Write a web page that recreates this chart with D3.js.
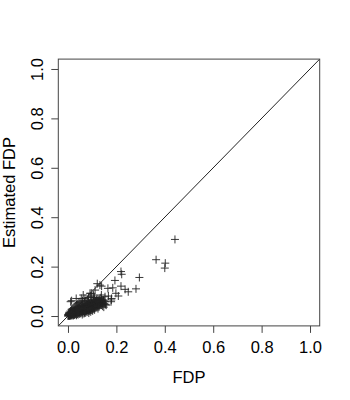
<!DOCTYPE html>
<html>
<head>
<meta charset="utf-8">
<script src="https://cdn.jsdelivr.net/npm/d3@7"></script>
<style>
  body { margin: 0; background: #fff; }
  svg text { font-family: "Liberation Sans", Arial, Helvetica, sans-serif; fill: #000; }
</style>
</head>
<body>
<div id="chart"></div>
<script>
const fdp = [
  0.000, 0.001, 0.002, 0.003, 0.004, 0.005, 0.006, 0.007, 0.008, 0.009,
  0.010, 0.011, 0.012, 0.013, 0.014, 0.015, 0.016, 0.017, 0.018, 0.019,
  0.020, 0.021, 0.022, 0.023, 0.024, 0.025, 0.026, 0.027, 0.028, 0.029,
  0.030, 0.031, 0.032, 0.033, 0.034, 0.035, 0.036, 0.037, 0.038, 0.039,
  0.040, 0.041, 0.042, 0.043, 0.044, 0.045, 0.046, 0.047, 0.048, 0.049,
  0.050, 0.051, 0.052, 0.053, 0.054, 0.055, 0.056, 0.057, 0.058, 0.059,
  0.060, 0.061, 0.062, 0.063, 0.064, 0.065, 0.066, 0.067, 0.068, 0.069,
  0.070, 0.071, 0.072, 0.073, 0.074, 0.075, 0.076, 0.077, 0.078, 0.079,
  0.080, 0.081, 0.082, 0.083, 0.084, 0.085, 0.086, 0.087, 0.088, 0.089,
  0.090, 0.091, 0.092, 0.093, 0.094, 0.095, 0.096, 0.097, 0.098, 0.099,
  0.100, 0.101, 0.102, 0.103, 0.104, 0.105, 0.106, 0.107, 0.108, 0.109,
  0.110, 0.111, 0.112, 0.114, 0.116, 0.118, 0.120, 0.122, 0.124, 0.126,
  0.128, 0.130, 0.133, 0.136, 0.140, 0.143, 0.147, 0.150,
  0.005, 0.010, 0.015, 0.020, 0.025, 0.030, 0.035, 0.040, 0.045, 0.050,
  0.060, 0.070, 0.080, 0.085, 0.095, 0.105, 0.110,
  0.002, 0.004, 0.006, 0.008, 0.009, 0.011, 0.013, 0.014, 0.016, 0.018,
  0.019, 0.021, 0.022, 0.024, 0.026, 0.027, 0.029, 0.031, 0.033, 0.034,
  0.036, 0.038, 0.039, 0.041, 0.043, 0.044, 0.046, 0.048, 0.049, 0.051,
  0.053, 0.055, 0.056, 0.058, 0.060, 0.061, 0.063, 0.065, 0.066, 0.068,
  0.070, 0.071, 0.073, 0.075, 0.077, 0.078, 0.080, 0.082, 0.083, 0.085,
  0.087, 0.089, 0.091, 0.093, 0.095, 0.097, 0.099, 0.101, 0.103, 0.105,
  0.107, 0.109, 0.112, 0.115, 0.117, 0.119, 0.122, 0.125, 0.127, 0.129,
  0.132, 0.135, 0.138, 0.141, 0.145, 0.148, 0.152, 0.155,
  0.442, 0.364, 0.402, 0.400, 0.295, 0.219, 0.222, 0.194, 0.219, 0.281,
  0.249, 0.236, 0.185, 0.208, 0.198, 0.139, 0.167, 0.178, 0.153, 0.121,
  0.165, 0.138, 0.179, 0.158, 0.132, 0.146, 0.132, 0.180, 0.117, 0.124,
  0.096, 0.091, 0.063, 0.055, 0.070, 0.015, 0.011, 0.034, 0.112
];
const estimatedFdp = [
  0.000, 0.004, 0.001, 0.007, 0.002, 0.010, 0.004, 0.001, 0.008, 0.013,
  0.003, 0.006, 0.011, 0.016, 0.002, 0.008, 0.012, 0.019, 0.005, 0.010,
  0.015, 0.001, 0.022, 0.007, 0.013, 0.018, 0.004, 0.010, 0.025, 0.015,
  0.020, 0.007, 0.012, 0.028, 0.017, 0.003, 0.022, 0.009, 0.014, 0.031,
  0.019, 0.025, 0.006, 0.012, 0.034, 0.017, 0.022, 0.028, 0.009, 0.015,
  0.037, 0.020, 0.026, 0.031, 0.012, 0.017, 0.040, 0.024, 0.029, 0.006,
  0.034, 0.014, 0.020, 0.043, 0.027, 0.032, 0.010, 0.037, 0.017, 0.023,
  0.047, 0.029, 0.035, 0.013, 0.040, 0.020, 0.026, 0.050, 0.032, 0.016,
  0.038, 0.044, 0.023, 0.029, 0.054, 0.035, 0.012, 0.041, 0.020, 0.047,
  0.027, 0.033, 0.058, 0.039, 0.017, 0.045, 0.024, 0.051, 0.031, 0.037,
  0.062, 0.043, 0.021, 0.049, 0.028, 0.055, 0.035, 0.041, 0.066, 0.047,
  0.025, 0.053, 0.032, 0.059, 0.039, 0.046, 0.070, 0.052, 0.030, 0.058,
  0.043, 0.064, 0.050, 0.074, 0.056, 0.040, 0.062, 0.050,
  0.015, 0.020, 0.027, 0.030, 0.035, 0.040, 0.045, 0.050, 0.055, 0.058,
  0.062, 0.060, 0.065, 0.075, 0.080, 0.085, 0.075,
  0.006, 0.009, 0.002, 0.005, 0.001, 0.014, 0.009, 0.005, 0.017, 0.008,
  0.014, 0.011, 0.004, 0.020, 0.012, 0.006, 0.018, 0.024, 0.010, 0.020,
  0.015, 0.027, 0.008, 0.021, 0.030, 0.014, 0.018, 0.033, 0.024, 0.011,
  0.021, 0.036, 0.026, 0.016, 0.039, 0.028, 0.022, 0.041, 0.030, 0.013,
  0.035, 0.044, 0.025, 0.031, 0.046, 0.019, 0.028, 0.049, 0.036, 0.022,
  0.030, 0.052, 0.038, 0.026, 0.033, 0.056, 0.042, 0.030, 0.036, 0.059,
  0.046, 0.033, 0.040, 0.062, 0.051, 0.035, 0.044, 0.066, 0.054, 0.038,
  0.048, 0.059, 0.045, 0.065, 0.053, 0.036, 0.058, 0.047,
  0.310, 0.228, 0.214, 0.194, 0.156, 0.180, 0.169, 0.144, 0.121, 0.110,
  0.098, 0.108, 0.114, 0.081, 0.092, 0.121, 0.081, 0.058, 0.078, 0.131,
  0.112, 0.085, 0.065, 0.044, 0.125, 0.065, 0.071, 0.071, 0.065, 0.038,
  0.092, 0.092, 0.085, 0.071, 0.071, 0.062, 0.058, 0.071, 0.105
];
const tickValues = [0, 0.2, 0.4, 0.6, 0.8, 1.0];
const xTitle = 'FDP';
const yTitle = 'Estimated FDP';

const width = 350, height = 400;
const points = fdp.map((d, i) => ({ x: d, y: estimatedFdp[i] }));

const svg = d3.select('#chart').append('svg')
  .attr('width', width)
  .attr('height', height);

svg.append('rect').attr('width', width).attr('height', height).attr('fill', '#fff');

// R style: 4% padding on both ends
const x = d3.scaleLinear().domain([-0.04, 1.04]).range([58.3, 319.7]);
const y = d3.scaleLinear().domain([-0.04, 1.04]).range([325.9, 59.1]);

// diagonal y = x
svg.append('line')
  .attr('x1', x(-0.04)).attr('y1', y(-0.04))
  .attr('x2', x(1.04)).attr('y2', y(1.04))
  .attr('stroke', '#222')
  .attr('stroke-width', 1);

// pch = 3 style crosses
const s = 4;
const marks = svg.append('g')
  .attr('stroke', '#222')
  .attr('stroke-width', 0.9)
  .attr('fill', 'none');

marks.selectAll('path')
  .data(points)
  .enter()
  .append('path')
  .attr('d', d => {
    const px = x(d.x), py = y(d.y);
    return `M${px - s},${py}H${px + s}M${px},${py - s}V${py + s}`;
  });

// axes
const xAxis = svg.append('g')
  .attr('transform', `translate(0,${y(-0.04)})`)
  .call(d3.axisBottom(x).tickValues(tickValues).tickFormat(d3.format('.1f')).tickSizeOuter(0).tickSize(7));

const yAxis = svg.append('g')
  .attr('transform', `translate(${x(-0.04)},0)`)
  .call(d3.axisLeft(y).tickValues(tickValues).tickFormat(d3.format('.1f')).tickSizeOuter(0).tickSize(7));

[xAxis, yAxis].forEach(g => {
  g.select('.domain').remove();
  g.selectAll('line').attr('stroke', '#444');
  g.selectAll('text').attr('font-size', 16.5).attr('font-family', null);
});

xAxis.selectAll('text')
  .attr('y', 27)
  .attr('dy', 0);

yAxis.selectAll('text')
  .attr('transform', 'rotate(-90)')
  .attr('text-anchor', 'middle')
  .attr('x', 0)
  .attr('y', -15)
  .attr('dy', 0);

// box
svg.append('rect')
  .attr('x', x(-0.04)).attr('y', y(1.04))
  .attr('width', x(1.04) - x(-0.04))
  .attr('height', y(-0.04) - y(1.04))
  .attr('fill', 'none')
  .attr('stroke', '#444')
  .attr('stroke-width', 1);

// titles
svg.append('text')
  .attr('x', (x(-0.04) + x(1.04)) / 2)
  .attr('y', 383)
  .attr('text-anchor', 'middle')
  .attr('font-size', 16.5)
  .text(xTitle);

svg.append('text')
  .attr('transform', `translate(15,${(y(-0.04) + y(1.04)) / 2}) rotate(-90)`)
  .attr('text-anchor', 'middle')
  .attr('font-size', 16.5)
  .text(yTitle);
</script>
</body>
</html>
